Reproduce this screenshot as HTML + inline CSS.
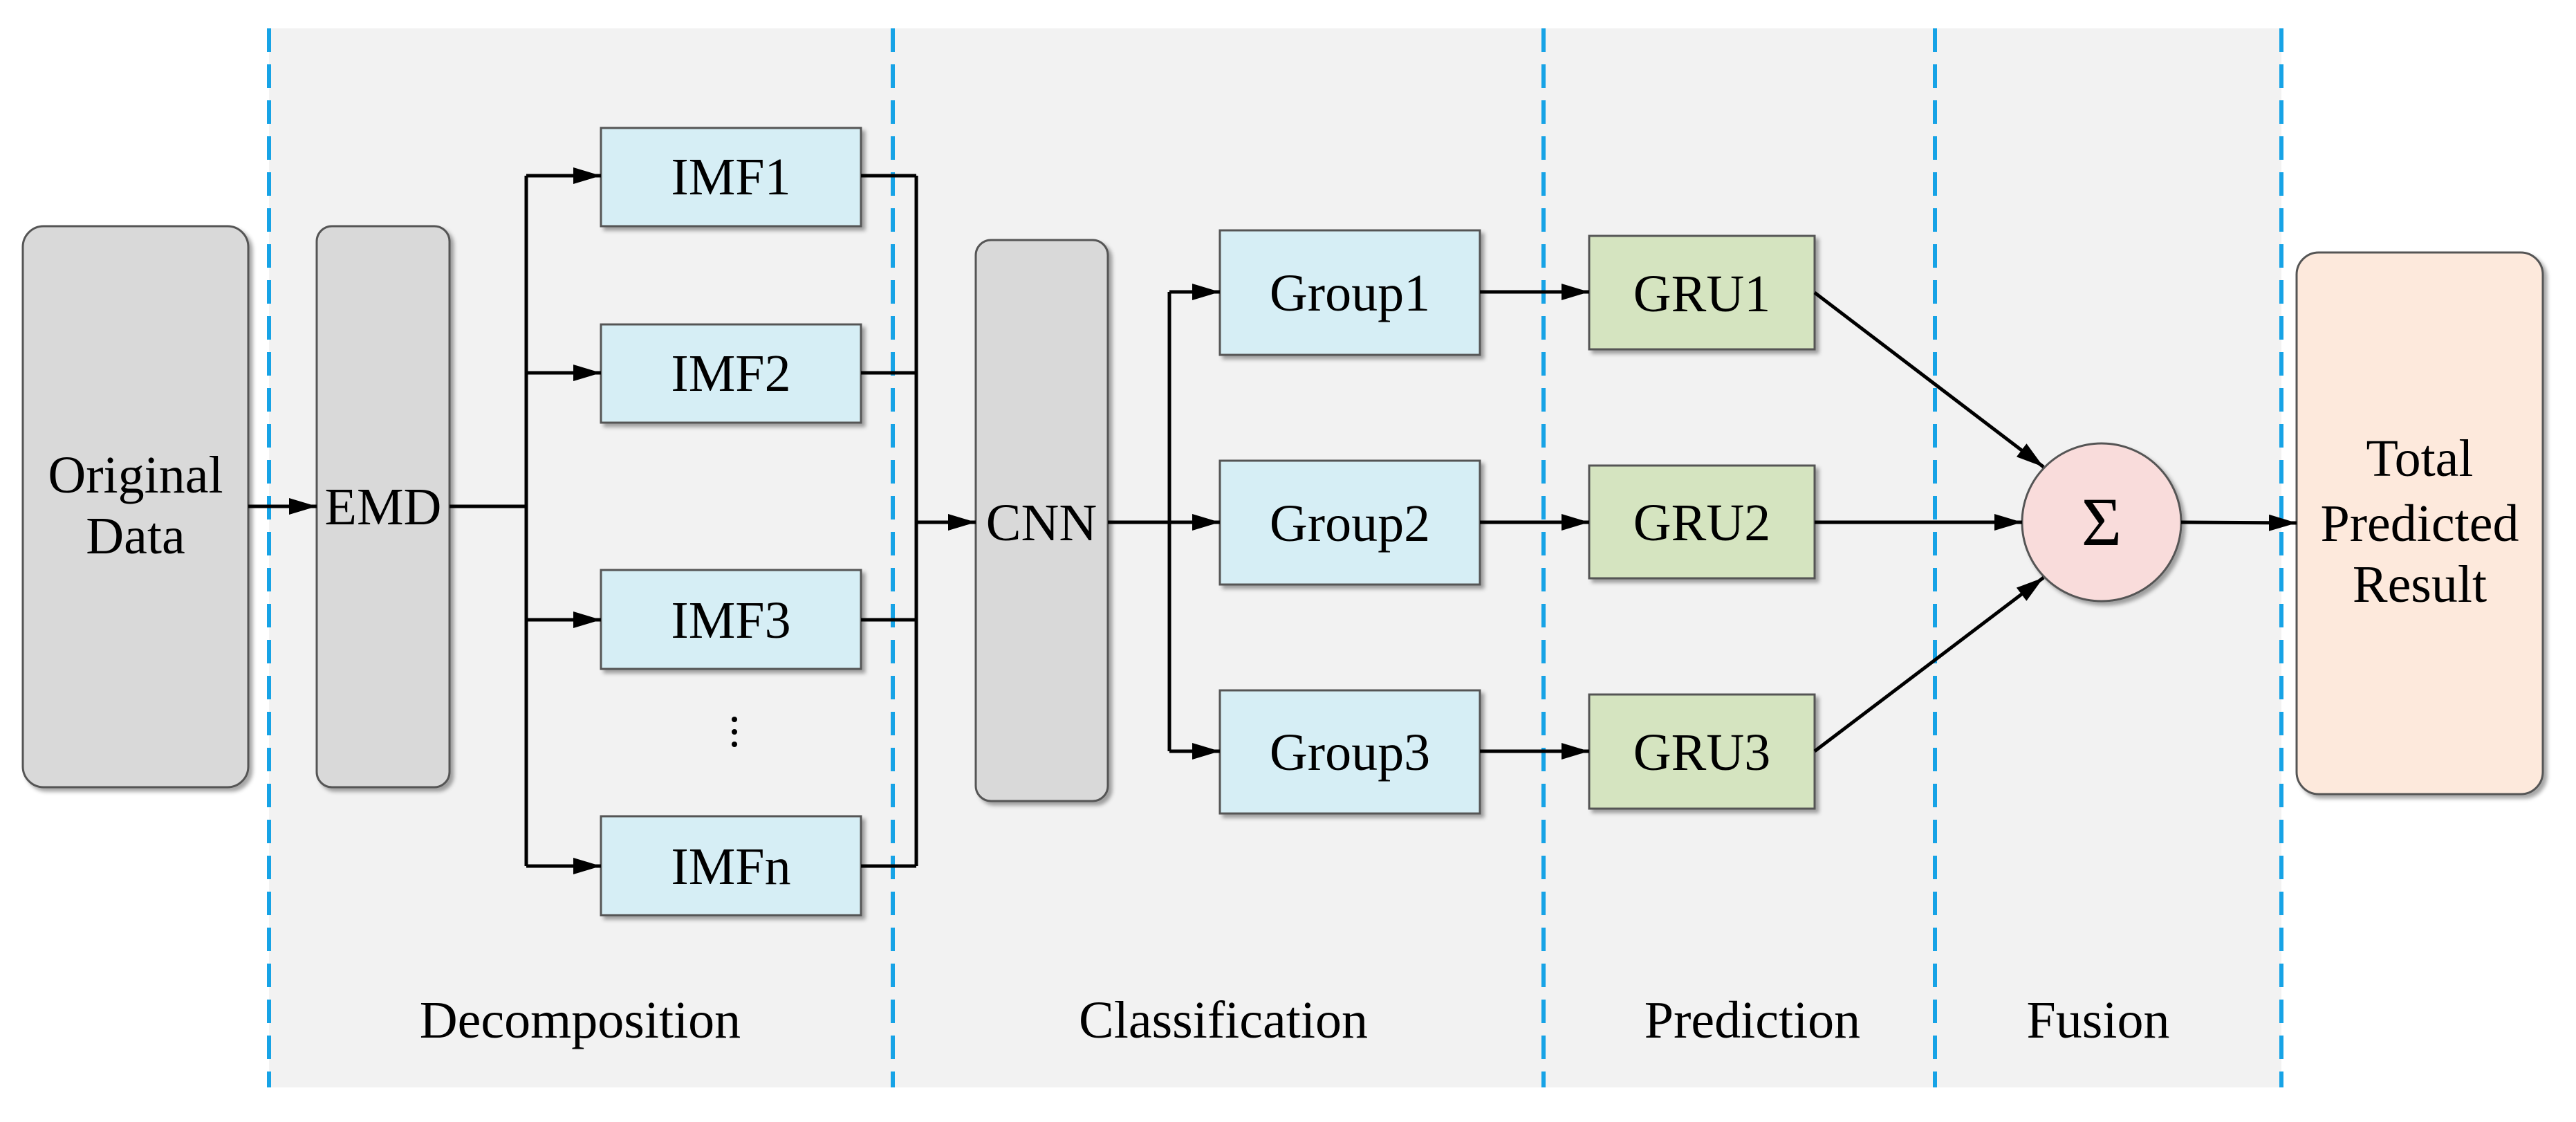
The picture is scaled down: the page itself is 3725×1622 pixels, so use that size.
<!DOCTYPE html>
<html><head><meta charset="utf-8"><style>html,body{margin:0;padding:0;background:#fff}svg{display:block}svg text{font-family:"Liberation Serif","Times New Roman",serif;font-size:76px}</style></head><body>
<svg width="3725" height="1622" viewBox="0 0 3725 1622" xmlns="http://www.w3.org/2000/svg">
<defs>
<filter id="sh" x="-10%" y="-10%" width="130%" height="130%"><feDropShadow dx="5" dy="5" stdDeviation="3" flood-color="#000" flood-opacity="0.35"/></filter>
<marker id="a" viewBox="0 0 10 10" refX="10" refY="5" markerWidth="40" markerHeight="24" markerUnits="userSpaceOnUse" orient="auto" preserveAspectRatio="none"><path d="M0,0 L10,5 L0,10 z" fill="#000"/></marker>
</defs>
<rect x="389" y="41" width="2910" height="1531" fill="#f2f2f2"/>
<g stroke="#17a3e6" stroke-width="6" stroke-dasharray="34,18">
<line x1="389" y1="41" x2="389" y2="1572"/><line x1="1291" y1="41" x2="1291" y2="1572"/>
<line x1="2232" y1="41" x2="2232" y2="1572"/><line x1="2798" y1="41" x2="2798" y2="1572"/>
<line x1="3299" y1="41" x2="3299" y2="1572"/>
</g>
<g filter="url(#sh)" stroke="#555" stroke-width="3">
<rect x="33" y="327" width="326" height="811" rx="30" fill="#d9d9d9"/>
<rect x="458" y="327" width="192" height="811" rx="22" fill="#d9d9d9"/>
<rect x="1411" y="347" width="191" height="811" rx="22" fill="#d9d9d9"/>
<rect x="869" y="185" width="376" height="142" fill="#d6eef5"/>
<rect x="869" y="469" width="376" height="142" fill="#d6eef5"/>
<rect x="869" y="824" width="376" height="143" fill="#d6eef5"/>
<rect x="869" y="1180" width="376" height="143" fill="#d6eef5"/>
<rect x="1764" y="333" width="376" height="180" fill="#d6eef5"/>
<rect x="1764" y="666" width="376" height="179" fill="#d6eef5"/>
<rect x="1764" y="998" width="376" height="178" fill="#d6eef5"/>
<rect x="2298" y="341" width="326" height="164" fill="#d5e4c0"/>
<rect x="2298" y="673" width="326" height="163" fill="#d5e4c0"/>
<rect x="2298" y="1004" width="326" height="165" fill="#d5e4c0"/>
<ellipse cx="3039" cy="755" rx="115" ry="114" fill="#f9dcdb"/>
<rect x="3321" y="365" width="356" height="783" rx="32" fill="#fde9dc"/>
</g>
<g stroke="#000" stroke-width="5" fill="none">
<line x1="359" y1="732" x2="458" y2="732" marker-end="url(#a)"/>
<polyline points="650,732 761,732"/>
<line x1="761" y1="254" x2="761" y2="1252"/>
<line x1="761" y1="254" x2="869" y2="254" marker-end="url(#a)"/>
<line x1="761" y1="539" x2="869" y2="539" marker-end="url(#a)"/>
<line x1="761" y1="896" x2="869" y2="896" marker-end="url(#a)"/>
<line x1="761" y1="1252" x2="869" y2="1252" marker-end="url(#a)"/>
<line x1="1245" y1="254" x2="1325" y2="254"/><line x1="1245" y1="539" x2="1325" y2="539"/>
<line x1="1245" y1="896" x2="1325" y2="896"/><line x1="1245" y1="1252" x2="1325" y2="1252"/>
<line x1="1325" y1="254" x2="1325" y2="1252"/>
<line x1="1325" y1="755" x2="1411" y2="755" marker-end="url(#a)"/>
<line x1="1602" y1="755" x2="1691" y2="755"/>
<line x1="1691" y1="422" x2="1691" y2="1086"/>
<line x1="1691" y1="422" x2="1764" y2="422" marker-end="url(#a)"/>
<line x1="1691" y1="755" x2="1764" y2="755" marker-end="url(#a)"/>
<line x1="1691" y1="1086" x2="1764" y2="1086" marker-end="url(#a)"/>
<line x1="2140" y1="422" x2="2298" y2="422" marker-end="url(#a)"/>
<line x1="2140" y1="755" x2="2298" y2="755" marker-end="url(#a)"/>
<line x1="2140" y1="1086" x2="2298" y2="1086" marker-end="url(#a)"/>
<line x1="2624" y1="423" x2="2955" y2="675" marker-end="url(#a)"/>
<line x1="2624" y1="755" x2="2924" y2="755" marker-end="url(#a)"/>
<line x1="2624" y1="1086" x2="2955" y2="835" marker-end="url(#a)"/>
<line x1="3154" y1="755" x2="3321" y2="756" marker-end="url(#a)"/>
</g>
<g fill="#000" text-anchor="middle">
<circle cx="1062" cy="1040" r="4"/><circle cx="1062" cy="1058" r="4"/><circle cx="1062" cy="1076" r="4"/>
<text x="196" y="712">Original</text><text x="196" y="800">Data</text>
<text x="554" y="758">EMD</text>
<text x="1057" y="281">IMF1</text><text x="1057" y="565">IMF2</text><text x="1057" y="922">IMF3</text><text x="1057" y="1278">IMFn</text>
<text x="1506" y="781">CNN</text>
<text x="1952" y="449">Group1</text><text x="1952" y="782">Group2</text><text x="1952" y="1113">Group3</text>
<text x="2461" y="450">GRU1</text><text x="2461" y="781">GRU2</text><text x="2461" y="1113">GRU3</text>
<text x="3039" y="788" style="font-size:100px">Σ</text>
<text x="3499" y="688">Total</text><text x="3499" y="782">Predicted</text><text x="3499" y="870">Result</text>
<text x="839" y="1500">Decomposition</text>
<text x="1769" y="1500">Classification</text>
<text x="2534" y="1500">Prediction</text>
<text x="3034" y="1500">Fusion</text>
</g>
</svg>
</body></html>
